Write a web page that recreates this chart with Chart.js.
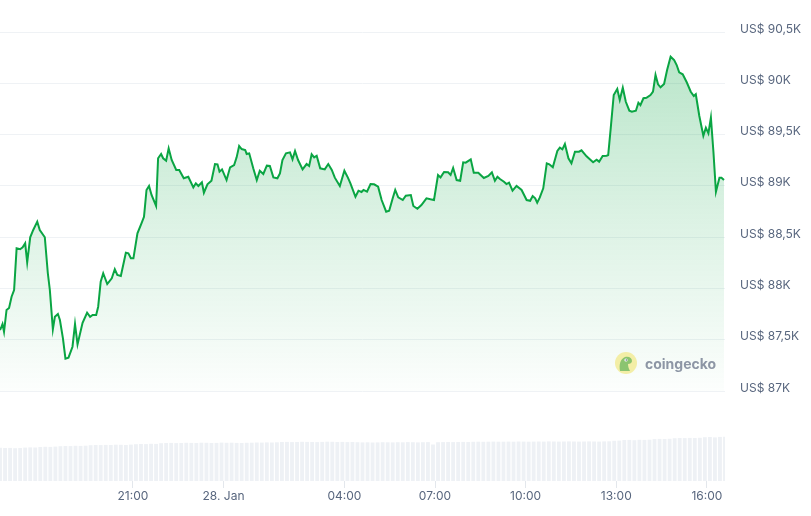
<!DOCTYPE html>
<html lang="de">
<head>
<meta charset="utf-8">
<title>BTC 24h</title>
<script src="https://cdn.jsdelivr.net/npm/chart.js@4.4.1/dist/chart.umd.min.js"></script>
<style>
  html, body { margin: 0; padding: 0; background: #fff; }
  #wrap { position: relative; width: 811px; height: 516px; }
  #price-chart { display: block; }
  .cg-mark {
    position: absolute; left: 615px; top: 352px;
    display: flex; align-items: center; gap: 8px;
    font-family: Inter, "Noto Sans", sans-serif; font-weight: 700;
    font-size: 14px; color: #8d96a5;
  }
</style>
</head>
<body>
<div id="wrap">
  <canvas id="price-chart" width="811" height="516"></canvas>
  <div class="cg-mark">
    <svg width="22" height="22" viewBox="0 0 22 22">
      <circle cx="11" cy="11" r="11" fill="#f3eea6"/>
      <path d="M5 19 C4 13 5 7 10 5 C14 4 17 6 17 9 C17 11 15 12 13 12 C13 15 14 17 15 19 Z" fill="#8bc470"/>
      <circle cx="11" cy="8" r="1.6" fill="#fff"/>
      <circle cx="11.3" cy="8" r="0.8" fill="#58667e"/>
    </svg>
    <span>coingecko</span>
  </div>
</div>
<script>
// minutes after 27 Jan 16:36, price in USD
const priceMinutes = [
  0, 3, 5, 8, 13, 18, 23, 28, 33, 40, 45, 50, 54, 60, 66, 74, 79, 89, 95, 99,
  105, 109, 115, 119, 125, 130, 136, 144, 149, 154, 164, 173, 179, 184, 191, 195, 200, 205, 213, 222,
  228, 233, 240, 250, 255, 260, 265, 273, 281, 286, 291, 296, 301, 310, 314, 320, 324, 330, 335, 341,
  350, 356, 365, 374, 384, 389, 394, 401, 405, 412, 420, 427, 432, 436, 441, 450, 457, 465, 470, 475,
  480, 487, 490, 495, 503, 510, 516, 523, 530, 536, 543, 551, 556, 561, 568, 576, 581, 586, 592, 601,
  609, 614, 619, 624, 629, 636, 645, 652, 659, 665, 675, 684, 691, 696, 706, 712, 718, 722, 729, 736,
  743, 751, 758, 767, 773, 780, 785, 791, 800, 806, 816, 821, 829, 837, 847, 855, 862, 870, 875, 882,
  890, 895, 900, 907, 914, 920, 925, 935, 941, 950, 961, 970, 977, 983, 988, 993, 1001, 1006, 1011, 1018,
  1026, 1036, 1046, 1053, 1058, 1063, 1067, 1072, 1079, 1086, 1091, 1098, 1107, 1112, 1117, 1122, 1129, 1135, 1142, 1150,
  1155, 1165, 1178, 1185, 1190, 1197, 1205, 1208, 1213, 1219, 1226, 1231, 1237, 1243, 1250, 1255, 1263, 1268, 1272, 1278,
  1284, 1292, 1297, 1302, 1307, 1312, 1319, 1325, 1332, 1339, 1344, 1349, 1356, 1364, 1372, 1378, 1382, 1389, 1397, 1402,
  1407, 1412, 1417, 1422, 1429, 1433, 1438
];

const prices = [
  87595, 87627, 87653, 87578, 87790, 87809, 87919, 87985, 88391, 88382, 88401, 88440, 88255, 88499, 88570, 88651, 88570, 88499, 88148, 87985,
  87602, 87724, 87751, 87692, 87514, 87315, 87325, 87432, 87653, 87455, 87666, 87763, 87724, 87741, 87741, 87822, 88066, 88148, 88043, 88099,
  88187, 88131, 88121, 88348, 88343, 88294, 88294, 88538, 88635, 88699, 88960, 88999, 88911, 88804, 89269, 89311, 89269, 89245, 89366, 89252,
  89155, 89155, 89074, 89089, 88986, 89025, 88999, 89035, 88933, 89015, 89050, 89213, 89210, 89138, 89161, 89057, 89181, 89203, 89278, 89389,
  89359, 89350, 89311, 89317, 89171, 89057, 89148, 89116, 89197, 89194, 89083, 89074, 89122, 89252, 89317, 89327, 89259, 89340, 89252, 89161,
  89213, 89194, 89308, 89278, 89294, 89171, 89161, 89213, 89155, 89080, 88999, 89148, 89080, 89025, 88894, 88953, 88940, 88960, 88943, 89018,
  89015, 88992, 88862, 88748, 88758, 88879, 88960, 88888, 88862, 88904, 88911, 88804, 88777, 88813, 88879, 88869, 88862, 89106, 89083, 89135,
  89132, 89106, 89174, 89057, 89050, 89230, 89226, 89259, 89128, 89128, 89077, 89096, 89132, 89050, 89089, 89067, 89041, 89018, 89031, 88953,
  88999, 88960, 88862, 88855, 88901, 88879, 88836, 88885, 88976, 89220, 89210, 89181, 89340, 89372, 89356, 89408, 89269, 89220, 89333, 89333,
  89347, 89288, 89230, 89255, 89236, 89291, 89294, 89301, 89561, 89886, 89944, 89837, 89957, 89820, 89733, 89723, 89733, 89811, 89788, 89854,
  89859, 89886, 89918, 90081, 89990, 89961, 89993, 90130, 90259, 90227, 90178, 90107, 90088, 90010, 89918, 89876, 89893, 89681, 89489, 89567,
  89512, 89665, 89333, 88943, 89080, 89080, 89057
];

// 24h volume (bn USD), one bar every 10 minutes
const volumes = [
  33.2, 33.0, 33.1, 32.8, 33.0,
  33.4, 33.6, 33.5, 34.0, 34.2, 34.1, 34.4,
  34.8, 35.0, 34.9, 35.2, 35.1, 35.3,
  35.8, 36.0, 35.9, 36.1, 36.0, 36.3, 36.2, 36.0, 36.4,
  36.8, 37.0, 36.9, 37.2, 37.1,
  37.8, 38.0, 38.1, 37.9, 38.0, 38.2, 38.1, 38.0, 38.3, 38.2, 38.0, 38.1,
  38.4, 38.2, 38.3, 38.1, 38.0, 38.2, 38.3, 38.5, 38.4, 38.6, 38.5, 38.7,
  39.0, 39.1, 38.9, 39.0, 39.2, 39.1, 39.0, 38.9, 39.1, 39.3, 39.2,
  39.0, 39.1, 38.9, 39.0, 38.8, 38.6, 38.7, 38.5, 38.6, 38.8, 38.7,
  38.6, 38.8, 38.7, 38.9, 38.8, 38.6, 38.8, 38.9, 36.5, 38.8, 38.9,
  39.0, 38.9, 39.0, 39.1, 39.0, 39.2, 39.3, 39.2, 39.3, 39.4, 39.3,
  39.3, 39.4, 39.3, 39.5, 39.4, 39.3, 39.4, 39.5, 39.4, 39.6, 39.5,
  39.4, 39.5, 39.6, 39.5, 39.4, 39.5, 39.6, 39.5, 39.4, 39.6, 39.7,
  40.2, 40.4,
  41.0, 41.1, 40.8, 41.2, 41.1, 41.3,
  41.9, 42.1, 42.0, 42.2,
  42.8, 43.0, 42.9, 43.1, 43.0, 43.2,
  43.8, 44.0, 43.6, 44.1, 44.2
];
const volumeStep = 10;

const xTickMinutes = [264, 444, 684, 864, 1044, 1224, 1404];
const xTickLabels = ["21:00", "28. Jan", "04:00", "07:00", "10:00", "13:00", "16:00"];

const yTickValues = [87000, 87500, 88000, 88500, 89000, 89500, 90000, 90500];
const yTickLabels = ["US$ 87K", "US$ 87,5K", "US$ 88K", "US$ 88,5K", "US$ 89K", "US$ 89,5K", "US$ 90K", "US$ 90,5K"];

const LINE_GREEN = "#0aa543";
const AXIS_TEXT = "#58667e";

function priceFill(context) {
  const chart = context.chart;
  if (!chart.chartArea) return "rgba(10,165,67,0.15)";
  const y = chart.scales.y;
  const top = y.getPixelForValue(yTickValues[yTickValues.length - 1]);
  const bottom = y.getPixelForValue(yTickValues[0]);
  const g = chart.ctx.createLinearGradient(0, top, 0, bottom);
  g.addColorStop(0, "rgba(10,165,67,0.30)");
  g.addColorStop(0.5, "rgba(10,165,67,0.15)");
  g.addColorStop(1, "rgba(10,165,67,0.01)");
  return g;
}

function renderChart() {
  const linePoints = priceMinutes.map((m, i) => ({ x: m, y: prices[i] }));
  const volumeBars = volumes.map((v, i) => ({ x: i * volumeStep, y: v }));

  new Chart(document.getElementById("price-chart"), {
    data: {
      datasets: [
        {
          type: "line",
          data: linePoints,
          yAxisID: "y",
          borderColor: LINE_GREEN,
          borderWidth: 2,
          pointRadius: 0,
          tension: 0,
          fill: { value: yTickValues[0] },
          backgroundColor: priceFill,
        },
        {
          type: "bar",
          data: volumeBars,
          yAxisID: "yv",
          backgroundColor: "#eef1f5",
          barPercentage: 0.76,
          categoryPercentage: 1,
        },
      ],
    },
    options: {
      responsive: false,
      animation: false,
      layout: { padding: { top: 32, left: 0, right: 0, bottom: 0 } },
      plugins: {
        legend: { display: false },
        tooltip: { enabled: false },
      },
      scales: {
        x: {
          type: "linear",
          offset: false,
          min: 0,
          max: 1440,
          afterBuildTicks: (scale) => {
            scale.ticks = xTickMinutes.map((v) => ({ value: v }));
          },
          afterFit: (scale) => {
            scale.height = 35;
          },
          grid: {
            offset: false,
            drawOnChartArea: false,
            drawTicks: true,
            tickLength: 7,
            color: "#e3e7ec",
          },
          border: { display: false },
          ticks: {
            autoSkip: false,
            maxRotation: 0,
            padding: 1,
            color: AXIS_TEXT,
            font: { family: "Inter", size: 12 },
            callback: (v) => xTickLabels[xTickMinutes.indexOf(v)],
          },
        },
        y: {
          position: "right",
          min: 86123,
          max: 90500,
          afterBuildTicks: (scale) => {
            scale.ticks = yTickValues.map((v) => ({ value: v }));
          },
          afterFit: (scale) => {
            scale.width = 86;
          },
          grid: { color: "#eff2f5", drawTicks: false },
          border: { display: false },
          ticks: {
            padding: 15,
            labelOffset: -3,
            color: AXIS_TEXT,
            font: { family: "Inter", size: 12 },
            callback: (v) => yTickLabels[yTickValues.indexOf(v)],
          },
        },
        yv: {
          display: false,
          min: 0,
          max: 449,
        },
      },
    },
  });
}

document.addEventListener("DOMContentLoaded", renderChart);
</script>
</body>
</html>
